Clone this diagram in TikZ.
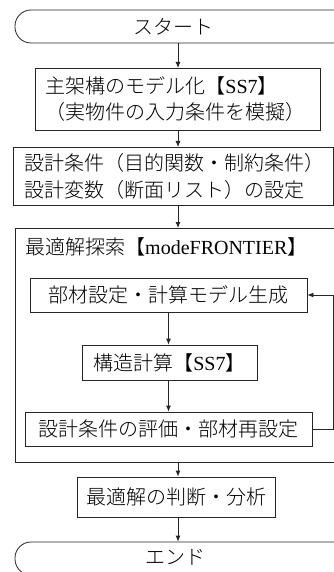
\documentclass[tikz,border=0pt]{standalone}
\usepackage{fontspec}
\setmainfont{Liberation Serif}
\IfFontExistsTF{Noto Sans CJK JP Light}{\newfontfamily\jp{Noto Sans CJK JP Light}}{\newfontfamily\jp{Noto Sans CJK JP}}
\usetikzlibrary{arrows.meta}
\tikzset{
  base/.style={draw=black!85, line width=0.8pt, text=black, font=\fontsize{20pt}{26pt}\selectfont\jp},
  term/.style={base, rounded corners=16pt, minimum width=334pt, minimum height=33pt, inner sep=0pt},
  box/.style={base, inner sep=0pt},
  arr/.style={draw=black!85, line width=0.8pt, -{Latex[length=6pt,width=5pt]}},
}
\newcommand\lat[1]{{\rmfamily #1}}
\begin{document}
\begin{tikzpicture}[x=1pt,y=-1pt]
\useasboundingbox (0,0) rectangle (334,572);
\clip (0,0) rectangle (334,572);
\fill[white] (0,0) rectangle (334,572);
\coordinate (col) at (178,0);
% start
\node[term] (start) at (182,26.5) {\hspace{-18pt}スタート};
% box 1
\node[box, anchor=north west, minimum width=285pt, minimum height=62pt, text width=265pt, align=left, inner xsep=10pt] (b1) at (35,68)
  {主架構のモデル化【\lat{SS7}】\\（実物件の入力条件を模擬）};
% box 2
\node[box, anchor=north west, minimum width=320pt, minimum height=58pt, text width=298pt, align=left, inner xsep=11pt] (b2) at (13,147)
  {設計条件（目的関数・制約条件）\\設計変数（断面リスト）の設定};
% big box
\node[box, anchor=north west, minimum width=321pt, minimum height=234pt] (big) at (15,228) {};
\node[anchor=west, inner sep=0pt, font=\fontsize{20pt}{26pt}\selectfont\jp] (title) at (25,247) {最適解探索【\lat{modeFRONTIER}】};
% inner boxes
\node[box, minimum width=277pt, minimum height=34pt] (i1) at (168.5,295) {部材設定・計算モデル生成};
\node[box, minimum width=175pt, minimum height=35pt] (i2) at (169.5,362.5) {構造計算【\lat{SS7}】};
\node[box, minimum width=287pt, minimum height=34pt] (i3) at (168.5,429) {設計条件の評価・部材再設定};
% box 4
\node[box, minimum width=198pt, minimum height=40pt] (b4) at (176,497) {最適解の判断・分析};
% end
\node[term] (end) at (182,558.5) {\raisebox{3pt}{\hspace{-14pt}エンド}};
% connectors
\draw[arr] (start.south -| col) -- (b1.north -| col);
\draw[arr] (b1.south -| col) -- (b2.north -| col);
\draw[arr] (b2.south -| col) -- (big.north -| col);
\draw[arr] (i1.south) -- (i2.north -| i1.south);
\draw[arr] (i2.south -| i1.south) -- (i3.north -| i1.south);
\draw[arr] (i3.east) -- ++(21,0) |- (i1.east);
\draw[arr] (big.south -| col) -- (b4.north -| col);
\draw[arr] (b4.south -| col) -- (end.north -| col);
\end{tikzpicture}
\end{document}
